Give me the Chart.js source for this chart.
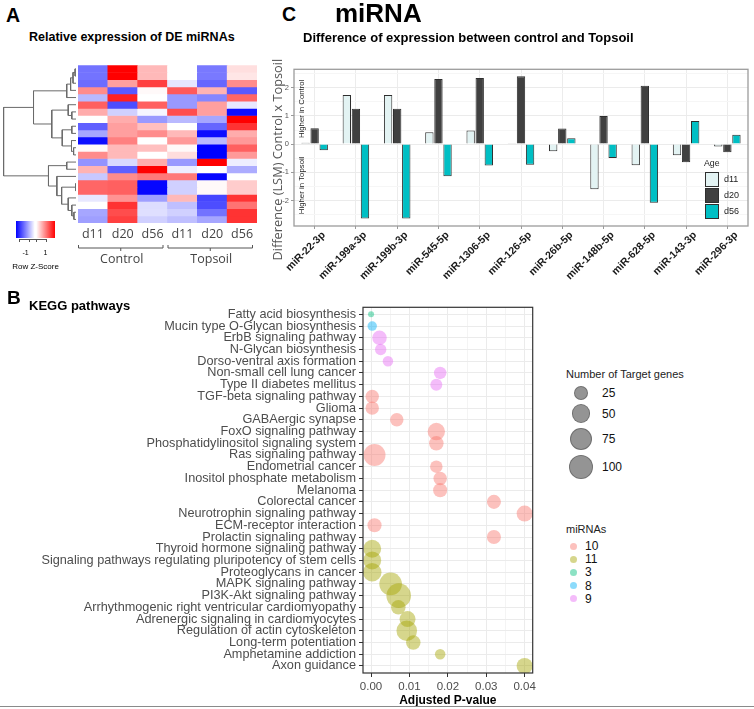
<!DOCTYPE html>
<html>
<head>
<meta charset="utf-8">
<script src="https://cdn.jsdelivr.net/npm/chart.js@4.4.1/dist/chart.umd.min.js"></script>
<style>
  body { margin: 0; background: #fff; }
  #fig { position: relative; width: 754px; height: 709px; overflow: hidden; font-family: "Liberation Sans", Arial, sans-serif; color: #000; }
  #fig canvas { position: absolute; }
  .t { position: absolute; white-space: nowrap; line-height: 1; }
  .c { position: absolute; white-space: nowrap; line-height: 1; transform: translateY(-50%); }
</style>
</head>
<body>
<div id="fig">
  <div class="t" style="left:6px;top:5.5px;font-size:19.5px;font-weight:bold">A</div>
  <div class="t" style="left:29px;top:30.5px;font-size:12.5px;font-weight:bold">Relative expression of DE miRNAs</div>
  <canvas id="dendro" width="80" height="230" style="left:0;top:55px"></canvas>
  <canvas id="heat" width="262" height="230" style="left:0;top:55px"></canvas>
  <div id="zkey"></div>

  <div class="t" style="left:282px;top:5px;font-size:19.5px;font-weight:bold">C</div>
  <div class="t" style="left:335px;top:-0.5px;font-size:26px;font-weight:bold">miRNA</div>
  <div class="t" style="left:303px;top:30.5px;font-size:13px;font-weight:bold">Difference of expression between control and Topsoil</div>
  <canvas id="diff" width="496" height="280" style="left:258px;top:25px"></canvas>
  <div id="ageLegend"></div>

  <div class="t" style="left:7px;top:287.5px;font-size:19px;font-weight:bold">B</div>
  <div class="t" style="left:29px;top:298.5px;font-size:13px;font-weight:bold">KEGG pathways</div>
  <canvas id="kegg" width="545" height="414" style="left:0;top:295px"></canvas>
  <div id="keggLegend"></div>

  <div style="position:absolute;left:0;top:706px;width:754px;height:1px;background:#8a8a8a"></div>
</div>

<script>
// ---------- panel A: heatmap ----------
const heatCols = ['d11', 'd20', 'd56', 'd11', 'd20', 'd56'];
const heatGroups = ['Control', 'Topsoil'];
// row z-scores, columns: Control d11 d20 d56, Topsoil d11 d20 d56
const zScores = [
  [-1.1, 2.0, 0.55, 0.0, -1.05, 0.25],
  [-1.1, 2.0, 0.55, 0.0, -1.05, 0.2],
  [-1.15, 0.75, 1.5, -0.2, -1.2, 0.9],
  [0.9, -1.3, 0.05, 1.3, 0.6, -1.3],
  [-0.55, 1.75, 0.0, -0.8, -0.95, 1.2],
  [1.25, -1.4, 1.25, -0.8, 0.75, -0.18],
  [0.65, -0.37, -0.08, 1.4, 0.75, -1.9],
  [0.0, 0.65, -0.8, -0.55, -0.7, 2.0],
  [-1.25, 0.75, 0.5, 0.0, -1.2, 1.6],
  [-0.7, 0.75, 0.9, 0.55, -1.9, 0.65],
  [-1.9, 1.0, 0.0, 0.8, -0.55, 0.8],
  [0.05, 0.55, 0.5, 0.05, -2.0, 1.25],
  [0.9, 0.55, 0.0, 0.27, -2.0, 0.8],
  [-0.85, -0.3, 0.65, -0.8, 2.0, -0.13],
  [0.6, -1.25, 2.0, -0.13, 0.0, -0.65],
  [-0.43, 0.9, 1.05, 1.05, -1.95, 0.0],
  [1.2, 1.25, -1.95, -0.37, 0.05, 0.4],
  [1.2, 1.25, -1.95, -0.37, 0.05, 0.4],
  [-0.18, 0.85, -0.75, 0.55, -1.45, 1.6],
  [0.0, 1.6, -0.27, -0.5, -1.4, 1.1],
  [-0.7, 1.4, -0.25, -0.37, -1.1, 1.6],
  [-0.75, 1.5, -0.37, -0.5, -0.7, 1.6]
];
// hclust style merges: negative = row (1-based), positive = earlier merge, then height
const dendroMerges = [
  [-1, -2, 0.3], [1, -3, 1.0], [2, -4, 1.8], [3, -5, 3.1],
  [-7, -8, 1.4], [-6, 5, 2.6],
  [-9, -10, 1.4], [-12, -13, 0.8], [-11, 8, 1.5], [7, 9, 4.6],
  [6, 10, 8.1], [4, 11, 14.2],
  [-14, -15, 3.1], [-17, -18, 0.1], [-21, -22, 0.7], [-20, 15, 1.4],
  [-19, 16, 2.6], [14, 17, 4.8], [-16, 18, 6.4], [13, 19, 9.2],
  [12, 20, 24.2]
];

// ---------- panel C: differences ----------
const mirnas = ['miR-22-3p', 'miR-199a-3p', 'miR-199b-3p', 'miR-545-5p', 'miR-1306-5p', 'miR-126-5p',
  'miR-26b-5p', 'miR-148b-5p', 'miR-628-5p', 'miR-143-3p', 'miR-296-3p'];
const ageGroups = ['d11', 'd20', 'd56'];
const diffD11 = [0.05, 1.74, 1.74, 0.42, 0.48, 0.03, -0.25, -1.60, -0.75, -0.39, -0.08];
const diffD20 = [0.56, 1.25, 1.25, 2.31, 2.34, 2.40, 0.55, 1.00, 2.07, -0.64, -0.29];
const diffD56 = [-0.22, -2.63, -2.63, -1.14, -0.76, -0.73, 0.21, -0.49, -2.08, 0.82, 0.33];
const ageColors = ['#e3f3f3', '#404040', '#00bfc4'];

// ---------- panel B: KEGG ----------
const pathways = [
  'Fatty acid biosynthesis', 'Mucin type O-Glycan biosynthesis', 'ErbB signaling pathway',
  'N-Glycan biosynthesis', 'Dorso-ventral axis formation', 'Non-small cell lung cancer',
  'Type II diabetes mellitus', 'TGF-beta signaling pathway', 'Glioma', 'GABAergic synapse',
  'FoxO signaling pathway', 'Phosphatidylinositol signaling system', 'Ras signaling pathway',
  'Endometrial cancer', 'Inositol phosphate metabolism', 'Melanoma', 'Colorectal cancer',
  'Neurotrophin signaling pathway', 'ECM-receptor interaction', 'Prolactin signaling pathway',
  'Thyroid hormone signaling pathway', 'Signaling pathways regulating pluripotency of stem cells',
  'Proteoglycans in cancer', 'MAPK signaling pathway', 'PI3K-Akt signaling pathway',
  'Arrhythmogenic right ventricular cardiomyopathy', 'Adrenergic signaling in cardiomyocytes',
  'Regulation of actin cytoskeleton', 'Long-term potentiation', 'Amphetamine addiction', 'Axon guidance'
];
const adjPValue = [0.0000, 0.0003, 0.0022, 0.0025, 0.0044, 0.0180, 0.0170, 0.0003, 0.0003, 0.0067,
  0.0170, 0.0170, 0.0009, 0.0170, 0.0180, 0.0180, 0.0320, 0.0400, 0.0009, 0.0320,
  0.0003, 0.0003, 0.0003, 0.0051, 0.0072, 0.0071, 0.0095, 0.0093, 0.0110, 0.0180, 0.0400];
const targetGenes = [1, 7, 26, 13, 10, 17, 15, 21, 21, 21,
  42, 26, 76, 17, 21, 24, 24, 34, 24, 24,
  46, 46, 50, 82, 100, 26, 34, 65, 26, 10, 34];
const pathwayMirnas = ['3', '8', '9', '9', '9', '9', '9', '10', '10', '10',
  '10', '10', '10', '10', '10', '10', '10', '10', '10', '10',
  '11', '11', '11', '11', '11', '11', '11', '11', '11', '11', '11'];
const mirnaLevels = ['10', '11', '3', '8', '9'];
const levelColors = ['#F8766D', '#A3A500', '#00BF7D', '#00B0F6', '#E76BF3'];
const sizeBreaks = [25, 50, 75, 100];

Chart.defaults.font.family = '"Liberation Sans", Arial, sans-serif';
Chart.defaults.animation = false;
Chart.defaults.plugins.legend.display = false;
Chart.defaults.plugins.tooltip.enabled = false;

function zColor(z) {
  const t = Math.min(Math.abs(z) / 2, 1);
  const c = Math.round(255 * (1 - t));
  return z >= 0 ? `rgb(255,${c},${c})` : `rgb(${c},${c},255)`;
}
function hexA(hex, a) {
  const n = parseInt(hex.slice(1), 16);
  return `rgba(${n >> 16},${(n >> 8) & 255},${n & 255},${a})`;
}
function bubbleRadius(n) {
  return 2 + 1.03 * Math.sqrt(n);
}

const framePlugin = {
  id: 'frame',
  afterDraw(chart, args, opts) {
    const { ctx, chartArea: a } = chart;
    ctx.save();
    ctx.strokeStyle = opts.color;
    ctx.lineWidth = opts.width;
    ctx.strokeRect(a.left, a.top, a.right - a.left, a.bottom - a.top);
    ctx.restore();
  }
};

// ---------- dendrogram ----------
function dendroSegments() {
  const nodes = [];
  const get = id => id < 0 ? { h: 0, y: -id - 0.5 } : nodes[id - 1];
  return dendroMerges.map(([a, b, h]) => {
    const A = get(a), B = get(b);
    nodes.push({ h: h, y: (A.y + B.y) / 2 });
    return [{ x: A.h, y: A.y }, { x: h, y: A.y }, { x: h, y: B.y }, { x: B.h, y: B.y }];
  });
}

new Chart(document.getElementById('dendro'), {
  type: 'scatter',
  data: {
    datasets: dendroSegments().map(seg => ({
      data: seg, showLine: true, borderColor: '#6a6a6a', borderWidth: 1,
      pointRadius: 0, tension: 0
    }))
  },
  options: {
    responsive: false,
    layout: { padding: { left: 3, right: 4, top: 10.3, bottom: 62 } },
    scales: {
      x: { type: 'linear', min: 0, max: 24.4, reverse: true, display: false },
      y: { type: 'linear', min: 0, max: 22, reverse: true, display: false }
    }
  }
});

// ---------- heatmap ----------
const bracketPlugin = {
  id: 'brackets',
  afterDraw(chart) {
    const { ctx, chartArea: a, scales: { x } } = chart;
    const half = (x.getPixelForValue(1) - x.getPixelForValue(0)) / 2;
    const y = a.bottom + 25;
    ctx.save();
    ctx.strokeStyle = '#555';
    ctx.lineWidth = 1;
    ctx.fillStyle = '#444';
    ctx.font = '12.5px "Open Sans"';
    ctx.textAlign = 'center';
    ctx.textBaseline = 'middle';
    heatGroups.forEach((g, gi) => {
      const x0 = x.getPixelForValue(gi * 3) - half + 0.5;
      const x1 = x.getPixelForValue(gi * 3 + 2) + half - 4.5;
      const xm = (x0 + x1) / 2;
      ctx.beginPath();
      ctx.moveTo(x0, y - 3); ctx.lineTo(x0, y); ctx.lineTo(x1, y); ctx.lineTo(x1, y - 3);
      ctx.moveTo(xm, y); ctx.lineTo(xm, y + 3);
      ctx.stroke();
      ctx.fillText(g, xm + 1, y + 11);
    });
    ctx.restore();
  }
};

new Chart(document.getElementById('heat'), {
  type: 'bar',
  data: {
    labels: heatCols,
    datasets: zScores.map(row => ({
      data: row.map(() => 1),
      backgroundColor: row.map(zColor),
      borderWidth: 0,
      stack: 'cells'
    }))
  },
  options: {
    responsive: false,
    categoryPercentage: 1,
    barPercentage: 1,
    layout: { padding: { left: 78, right: 5, top: 10.3, bottom: 0 } },
    scales: {
      x: {
        stacked: true,
        grid: { display: false, drawTicks: false },
        border: { display: false },
        ticks: { font: { family: '"Open Sans"', size: 12.5 }, color: '#444', padding: 4 },
        afterFit: s => { s.height = 62; }
      },
      y: { stacked: true, min: 0, max: 22, reverse: true, display: false }
    }
  },
  plugins: [bracketPlugin]
});

// colour key
(function () {
  const key = document.getElementById('zkey');
  let html = '<div style="position:absolute;left:16px;top:221px;width:39px;height:17px;' +
    'background:linear-gradient(to right,#0000ff,#ffffff 48%,#ffffff 52%,#ff0000)"></div>';
  html += '<div style="position:absolute;left:19px;top:239px;width:27px;height:1px;background:#555"></div>';
  [19, 29, 36, 45.5].forEach(x => {
    html += `<div style="position:absolute;left:${x}px;top:239px;width:1px;height:3px;background:#555"></div>`;
  });
  [[-1, 25.5], [1, 45.5]].forEach(([v, x]) => {
    html += `<div class="c" style="left:${x}px;top:252px;font-size:7px;transform:translate(-50%,-50%)">${v}</div>`;
  });
  html += '<div class="c" style="left:35.5px;top:267px;font-size:8px;transform:translate(-50%,-50%)">Row Z-Score</div>';
  key.innerHTML = html;
})();

// ---------- panel C ----------
const diffNotes = {
  id: 'diffNotes',
  afterDraw(chart) {
    const { ctx, chartArea: a, scales: { y } } = chart;
    ctx.save();
    ctx.fillStyle = '#222';
    ctx.textAlign = 'center';
    ctx.textBaseline = 'middle';
    ctx.font = '7.8px "Liberation Sans", Arial';
    [['Higher in Control', 1.25], ['Higher in Topsoil', -1.46]].forEach(([txt, v]) => {
      ctx.save();
      ctx.translate(a.left + 7.5, y.getPixelForValue(v));
      ctx.rotate(-Math.PI / 2);
      ctx.fillText(txt, 0, 0);
      ctx.restore();
    });
    ctx.font = '12.8px "Open Sans"';
    ctx.fillStyle = '#555';
    ctx.translate(a.left - 16, (a.top + a.bottom) / 2 + 12);
    ctx.rotate(-Math.PI / 2);
    ctx.fillText('Difference (LSM) Control x Topsoil', 0, 0);
    ctx.restore();
  }
};

const diffTicks = [-2.5, -2, -1.5, -1, -0.5, 0, 0.5, 1, 1.5, 2, 2.5];
new Chart(document.getElementById('diff'), {
  type: 'bar',
  data: {
    labels: mirnas,
    datasets: [diffD11, diffD20, diffD56].map((vals, k) => ({
      label: ageGroups[k],
      data: vals,
      backgroundColor: ageColors[k],
      borderColor: '#2e2e2e',
      borderWidth: 1
    }))
  },
  options: {
    responsive: false,
    categoryPercentage: 0.66,
    barPercentage: 0.92,
    layout: { padding: { left: 0, right: 6, top: 44.3, bottom: 0 } },
    scales: {
      x: {
        grid: { color: '#ececec', offset: false, tickColor: '#9a9a9a', tickLength: 3 },
        border: { display: false },
        ticks: {
          font: { size: 10.5, weight: 'bold' }, color: '#1a1a1a',
          minRotation: 45, maxRotation: 45, autoSkip: false, padding: 0, labelOffset: 9
        },
        afterFit: s => { s.height = 79; }
      },
      y: {
        min: -2.9, max: 2.65,
        afterBuildTicks: s => { s.ticks = diffTicks.map(v => ({ value: v })); },
        grid: {
          color: c => Number.isInteger(c.tick.value) ? '#ebebeb' : '#f6f6f6',
          tickColor: c => Number.isInteger(c.tick.value) ? '#9a9a9a' : 'rgba(0,0,0,0)',
          tickLength: 3
        },
        border: { display: false },
        ticks: {
          callback: v => Number.isInteger(v) ? String(v) : '',
          font: { size: 7.5 }, color: '#555', padding: 2
        },
        afterFit: s => { s.width = 36; }
      }
    },
    plugins: { frame: { color: '#9c9c9c', width: 1.3 } }
  },
  plugins: [framePlugin, diffNotes]
});

(function () {
  const el = document.getElementById('ageLegend');
  let html = '<div class="c" style="left:704px;top:162.5px;font-size:8.8px;color:#222">Age</div>';
  const ys = [178.5, 195, 210.5];
  ageGroups.forEach((g, k) => {
    html += `<div style="position:absolute;left:705px;top:${ys[k] - 7}px;width:12px;height:13px;` +
      `background:${ageColors[k]};border:1px solid #2e2e2e"></div>`;
    html += `<div class="c" style="left:724px;top:${ys[k]}px;font-size:9px;color:#222">${g}</div>`;
  });
  el.innerHTML = html;
})();

// ---------- panel B ----------
const pTicks = [0, 1, 2, 3, 4, 5, 6, 7, 8].map(k => k / 200);
new Chart(document.getElementById('kegg'), {
  type: 'bubble',
  data: {
    datasets: mirnaLevels.map((lvl, k) => ({
      label: lvl,
      data: pathways
        .map((p, i) => ({ x: adjPValue[i], y: i, r: bubbleRadius(targetGenes[i]), g: pathwayMirnas[i] }))
        .filter(d => d.g === lvl),
      backgroundColor: hexA(levelColors[k], 0.45),
      borderWidth: 0,
      hoverRadius: 0
    }))
  },
  options: {
    responsive: false,
    layout: { padding: { left: 0, right: 9.3, top: 5, bottom: 0.8 } },
    scales: {
      x: {
        type: 'linear', min: -0.0021, max: 0.0421,
        afterBuildTicks: s => { s.ticks = pTicks.map(v => ({ value: v })); },
        grid: {
          color: c => c.index % 2 === 0 ? '#ebebeb' : '#f4f4f4',
          tickColor: c => c.index % 2 === 0 ? '#333' : 'rgba(0,0,0,0)',
          tickLength: 4
        },
        border: { display: false },
        ticks: {
          callback: (v, i) => i % 2 === 0 ? v.toFixed(2) : '',
          font: { size: 11.5 }, color: '#4d4d4d', padding: 3, maxRotation: 0, autoSkip: false
        },
        title: { display: true, text: 'Adjusted P-value', font: { size: 12, weight: 'bold' }, color: '#000', padding: 0 },
        afterFit: s => { s.height = 35.2; }
      },
      y: {
        type: 'linear', min: -0.6, max: pathways.length - 0.4, reverse: true,
        afterBuildTicks: s => { s.ticks = pathways.map((p, i) => ({ value: i })); },
        grid: { color: '#ebebeb', tickColor: '#333', tickLength: 4 },
        border: { display: false },
        ticks: {
          callback: v => pathways[v], autoSkip: false,
          font: { size: 12.7 }, color: '#4d4d4d', padding: 3
        },
        afterFit: s => { s.width = 363; }
      }
    },
    plugins: { frame: { color: '#333', width: 1.2 } }
  },
  plugins: [framePlugin]
});

(function () {
  const el = document.getElementById('keggLegend');
  let html = '<div class="c" style="left:566px;top:374px;font-size:11px;color:#222">Number of Target genes</div>';
  const sy = [393, 413.7, 438.7, 467];
  sizeBreaks.forEach((n, k) => {
    const r = bubbleRadius(n);
    html += `<div style="position:absolute;left:${581 - r}px;top:${sy[k] - r}px;width:${2 * r}px;height:${2 * r}px;` +
      `border-radius:50%;background:rgba(0,0,0,0.42);box-sizing:border-box;border:1px solid rgba(0,0,0,0.25)"></div>`;
    html += `<div class="c" style="left:602px;top:${sy[k]}px;font-size:12px;color:#111">${n}</div>`;
  });
  html += '<div class="c" style="left:566px;top:529px;font-size:11px;color:#222">miRNAs</div>';
  const my = [546, 559, 572, 585.7, 598.7];
  mirnaLevels.forEach((lvl, k) => {
    html += `<div style="position:absolute;left:569.5px;top:${my[k] - 3.5}px;width:7px;height:7px;border-radius:50%;` +
      `background:${hexA(levelColors[k], 0.45)}"></div>`;
    html += `<div class="c" style="left:585px;top:${my[k]}px;font-size:12px;color:#111">${lvl}</div>`;
  });
  el.innerHTML = html;
})();
</script>
</body>
</html>
